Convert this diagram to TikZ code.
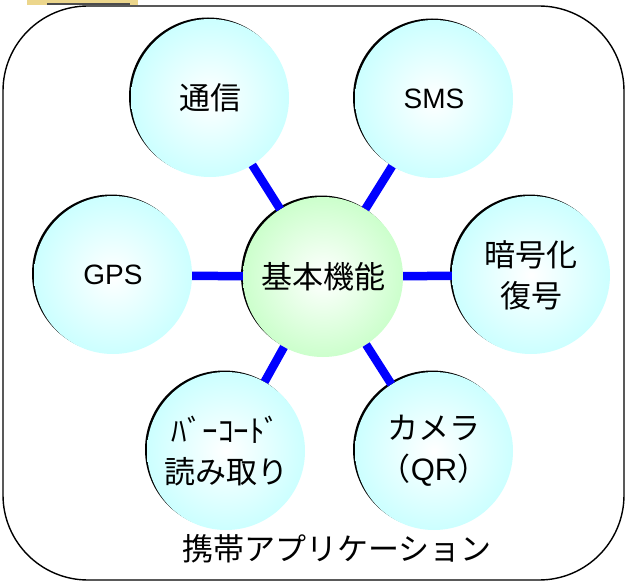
\documentclass[tikz,border=0pt]{standalone}
\usepackage{fontspec}
\setmainfont{Noto Sans CJK JP}
\newfontfamily\latinfont{Liberation Sans}
\usetikzlibrary{shadows}
\definecolor{bubcyan}{RGB}{204,255,255}
\definecolor{bubgreen}{RGB}{204,255,204}
\definecolor{linkblue}{RGB}{0,0,255}
\definecolor{tanbox}{RGB}{236,214,140}
\tikzset{
  bubble/.style={circle, minimum size=158pt, inner sep=0pt, draw=none,
    inner color=white, outer color=bubcyan, align=center,
    font=\fontsize{31pt}{41pt}\selectfont,
    drop shadow={shadow xshift=-2pt, shadow yshift=1.5pt, fill=black, opacity=1}},
  corebubble/.style={bubble, outer color=bubgreen, minimum size=160pt},
  link/.style={line width=8.5pt, linkblue},
  frame/.style={line width=1.4pt, rounded corners=85pt}
}
\begin{document}
\begin{tikzpicture}[x=1pt,y=-1pt]
\useasboundingbox (0,0) rectangle (627,586);
\fill[white] (0,0) rectangle (627,586);
% partial tab at top-left
\fill[tanbox] (27,-4) rectangle (138,5);
\draw[line width=1.5pt, black!70] (47,4) -- (130,4);
% frame
\draw[frame] (3,6) rectangle (624,580);
% bubbles
\node[corebubble] (core) at (323,277) {基本機能};
\node[bubble] (tsushin) at (210,98) {通信};
\node[bubble] (sms) at (434,99) {\latinfont\fontsize{28pt}{41pt}\selectfont SMS};
\node[bubble] (gps) at (113,275) {\latinfont\fontsize{28pt}{41pt}\selectfont GPS};
\node[bubble] (crypto) at (531,275) {暗号化\\復号};
\node[bubble] (barcode) at (226,451) {ﾊﾞｰｺｰﾄﾞ\\読み取り};
\node[bubble] (camera) at (434,451) {カメラ\\（{\latinfont QR}）};
% links
\draw[link] (core) -- (tsushin);
\draw[link] (core) -- (sms);
\draw[link] (core) -- (gps);
\draw[link] (core) -- (crypto);
\draw[link] (core) -- (barcode);
\draw[link] (core) -- (camera);
% title
\node[font=\fontsize{31pt}{36pt}\selectfont] (title) at (337,549) {携帯アプリケーション};
\end{tikzpicture}
\end{document}
